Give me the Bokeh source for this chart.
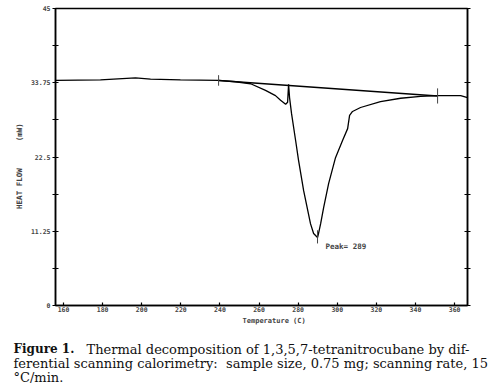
from bokeh.plotting import figure
from bokeh.models import Range1d, FixedTicker, LinearAxis, Label
from bokeh.core.properties import value
from bokeh.embed import file_html
from bokeh.resources import INLINE

# ---- data ----
temp_C = [155.9, 178.9, 196.8, 204.5, 219.8, 239.3, 248.0, 255.7, 263.3, 268.4,
          271.0, 273.6, 274.6, 275.1, 275.6, 276.6, 278.7, 280.2, 282.8, 286.3,
          287.9, 289.9, 290.4, 291.5, 293.0, 295.6, 299.1, 302.7, 305.3, 306.3,
          307.8, 311.9, 322.1, 332.4, 342.6, 351.3, 363.1, 366.6]
heat_flow_mW = [34.1, 34.2, 34.5, 34.3, 34.2, 34.1, 33.9, 33.6, 32.6, 31.8,
                31.1, 30.5, 30.8, 33.5, 31.5, 29.1, 25.0, 22.0, 17.4, 12.4,
                10.9, 10.3, 10.9, 12.4, 14.8, 18.5, 22.4, 25.0, 26.8, 28.8,
                29.4, 30.0, 30.9, 31.4, 31.7, 31.8, 31.8, 31.5]

baseline_T = [239.3, 351.3]
baseline_V = [34.1, 31.75]

marker_T = [239.3, 351.3, 289.9]
marker_lo = [33.3, 30.6, 9.4]
marker_hi = [34.9, 32.9, 11.4]

peak_T = 289
x_ticks = [160, 180, 200, 220, 240, 260, 280, 300, 320, 340, 360]
y_major = [0, 11.25, 22.5, 33.75, 45]
y_minor = [5.625, 16.875, 28.125, 39.375]
y_labels = ["0", "11.25", "22.5", "33.75", "45"]

caption_bold = "Figure 1."
caption_lines = [
    "Thermal decomposition of 1,3,5,7-tetranitrocubane by dif-",
    "ferential scanning calorimetry:\u00a0 sample size, 0.75 mg; scanning rate, 15",
    "\u00b0C/min.",
]

# ---- layout / style constants ----
MONO = "DejaVu Sans Mono"
SERIF = "DejaVu Serif"
NB = "\u00a0"

line_x = [86, 13, 13]
base_y = [18.5, 32.5, 46.5]

p = figure(frame_width=412, frame_height=297, output_backend="svg",
           toolbar_location=None, x_range=Range1d(155.9, 366.6),
           y_range=Range1d(0, 45), min_border_left=55, min_border_top=8,
           min_border_bottom=25, min_border_right=28)
p.xgrid.visible = False
p.ygrid.visible = False
p.background_fill_color = "white"
p.border_fill_color = "white"
p.outline_line_color = "black"
p.outline_line_width = 1.5

# x axis
xa = p.xaxis[0]
xa.ticker = FixedTicker(ticks=x_ticks)
xa.major_tick_in = 3
xa.major_tick_out = 0
xa.minor_tick_line_color = None
xa.major_label_standoff = 1
xa.major_label_text_font = MONO
xa.major_label_text_font_style = "bold"
xa.major_label_text_font_size = "6.5px"
xa.axis_line_width = 1.5
xa.major_tick_line_width = 1.2
xa.axis_label = NB * 6 + "Temperature (C)"
xa.axis_label_text_font = MONO
xa.axis_label_text_font_style = "bold"
xa.axis_label_text_font_size = "7px"
xa.axis_label_standoff = 2

# y axis (left)
ya = p.yaxis[0]
ya.ticker = FixedTicker(ticks=y_major, minor_ticks=y_minor)
ya.major_label_overrides = {t: s for t, s in zip(y_major, y_labels)}
ya.major_tick_in = 3
ya.major_tick_out = 3
ya.minor_tick_in = 3
ya.minor_tick_out = 3
ya.major_label_standoff = 2
ya.major_label_text_font = MONO
ya.major_label_text_font_style = "bold"
ya.major_label_text_font_size = "6.5px"
ya.axis_line_width = 1.5
ya.major_tick_line_width = 1.2
ya.minor_tick_line_width = 1.2
ya.axis_label = "HEAT FLOW" + NB * 6 + "(mW)" + NB * 4
ya.axis_label_text_font = MONO
ya.axis_label_text_font_style = "bold"
ya.axis_label_text_font_size = "7.5px"
ya.axis_label_standoff = 4

# right axis: ticks only
ra = LinearAxis(ticker=FixedTicker(ticks=y_major, minor_ticks=y_minor))
ra.major_tick_in = 3
ra.major_tick_out = 3
ra.minor_tick_in = 3
ra.minor_tick_out = 3
ra.major_label_text_color = None
ra.axis_line_width = 1.5
ra.major_tick_line_width = 1.2
ra.minor_tick_line_width = 1.2
p.add_layout(ra, "right")

# curve and construction lines
p.line(temp_C, heat_flow_mW, line_color="black", line_width=1.3)
p.line(baseline_T, baseline_V, line_color="black", line_width=1.5)
p.segment(x0=marker_T, y0=marker_lo, x1=marker_T, y1=marker_hi,
          line_color="#444444", line_width=1)

p.add_layout(Label(x=294, y=8.9, text="Peak= %d" % peak_T, text_font=MONO,
                   text_font_style="bold", text_font_size="7.5px",
                   text_baseline="middle", text_align="left"))

# caption panel (pixel-space ranges, y pointing down), a separate root
CAP_H = 56
cap = figure(width=495, height=CAP_H, output_backend="svg", toolbar_location=None,
             x_range=Range1d(0, 495), y_range=Range1d(CAP_H, 0),
             x_axis_type=None, y_axis_type=None, min_border=0)
cap.xgrid.visible = False
cap.ygrid.visible = False
cap.outline_line_color = None
cap.background_fill_color = "white"
cap.border_fill_color = "white"

cap.text(x=[13], y=[base_y[0]], text=[caption_bold], text_font=value(SERIF),
         text_font_size="12px", text_font_style="bold", text_baseline="alphabetic",
         text_align="left", text_color="#111111")
cap.text(x=line_x, y=base_y, text=caption_lines, text_font=value(SERIF),
         text_font_size="13px", text_baseline="alphabetic", text_align="left",
         text_color="#111111")

open("out.html", "w").write(file_html([p, cap], INLINE))
